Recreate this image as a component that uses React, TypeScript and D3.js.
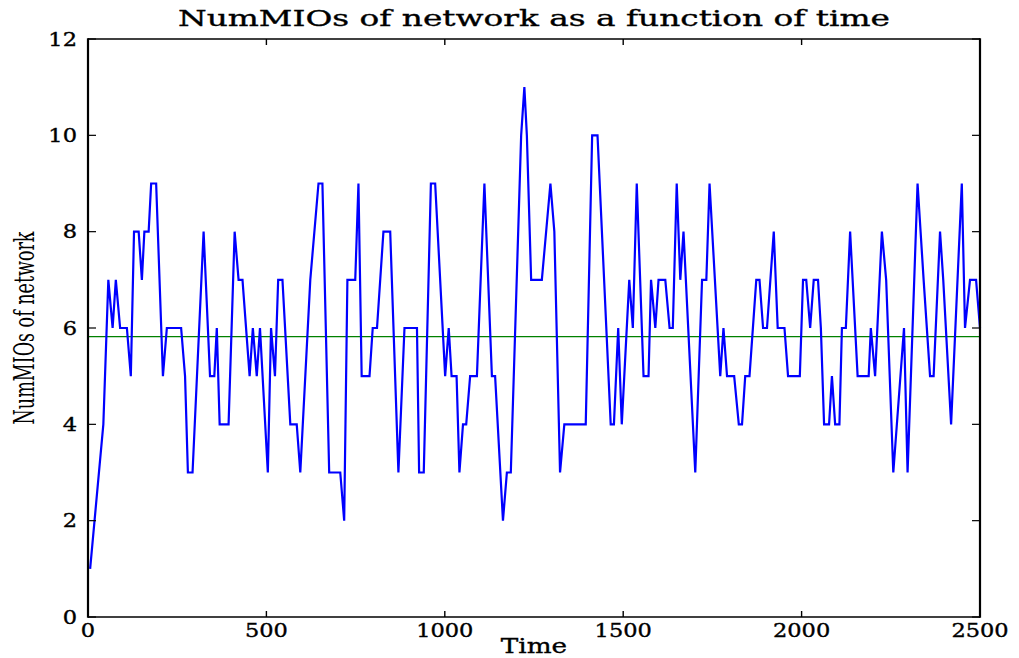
import React from "react";
import * as d3 from "d3";

// Number of MIOs in the network sampled over time (vertices of the trace)
const times: number[] = [
  6, 43, 57, 69, 78, 90, 109, 120, 129, 142, 151, 158, 170, 177, 191, 210, 221, 261, 272, 280,
  293, 324, 342, 354, 361, 369, 394, 411, 422, 433, 453, 462, 473, 482, 504, 513, 524, 533, 545, 567,
  585, 595, 623, 646, 657, 676, 707, 718, 727, 749, 758, 767, 789, 798, 810, 828, 847, 870, 887, 922,
  928, 941, 961, 973, 1001, 1011, 1019, 1033, 1041, 1051, 1060, 1071, 1090, 1111, 1132, 1141, 1163, 1174, 1185, 1214,
  1223, 1230, 1242, 1272, 1296, 1307, 1323, 1335, 1395, 1413, 1428, 1465, 1474, 1486, 1496, 1517, 1527, 1538, 1557, 1571,
  1578, 1590, 1599, 1618, 1630, 1639, 1650, 1660, 1669, 1702, 1721, 1733, 1742, 1772, 1781, 1791, 1811, 1824, 1833, 1842,
  1854, 1873, 1882, 1892, 1903, 1922, 1933, 1952, 1962, 1995, 2004, 2013, 2024, 2034, 2046, 2054, 2063, 2077, 2085, 2094,
  2106, 2113, 2124, 2136, 2157, 2188, 2194, 2206, 2225, 2237, 2257, 2287, 2297, 2325, 2342, 2360, 2370, 2388, 2397, 2419,
  2449, 2458, 2472, 2489, 2500,
];
const numMIOs: number[] = [
  1, 4, 7, 6, 7, 6, 6, 5, 8, 8, 7, 8, 8, 9, 9, 5, 6, 6, 5, 3,
  3, 8, 5, 5, 6, 4, 4, 8, 7, 7, 5, 6, 5, 6, 3, 6, 5, 7, 7, 4,
  4, 3, 7, 9, 9, 3, 3, 2, 7, 7, 9, 5, 5, 6, 6, 8, 8, 3, 6, 6,
  3, 3, 9, 9, 5, 6, 5, 5, 3, 4, 4, 5, 5, 9, 5, 5, 2, 3, 3, 10,
  11, 10, 7, 7, 9, 8, 3, 4, 4, 10, 10, 4, 4, 6, 4, 7, 6, 9, 5, 5,
  7, 6, 7, 7, 6, 6, 9, 7, 8, 3, 7, 7, 9, 5, 6, 5, 5, 4, 4, 5,
  5, 7, 7, 6, 6, 8, 6, 6, 5, 5, 7, 7, 6, 7, 7, 6, 4, 4, 5, 4,
  4, 6, 6, 8, 5, 5, 6, 5, 8, 7, 3, 6, 3, 9, 7, 5, 5, 8, 7, 4,
  9, 6, 7, 7, 6,
];
const meanMIOs = 5.82;

const xTicks: number[] = [0, 500, 1000, 1500, 2000, 2500];
const yTicks: number[] = [0, 2, 4, 6, 8, 10, 12];

const titleText = "NumMIOs of network as a function of time";
const xLabel = "Time";
const yLabel = "NumMIOs of network";

const W = 1019;
const H = 658;
const left = 88;
const right = 980;
const top = 39;
const bottom = 617;
const font = "'DejaVu Serif', serif";
const sx = 1.25;

export default function App() {
  const x = d3.scaleLinear().domain([0, 2500]).range([left, right]);
  const y = d3.scaleLinear().domain([0, 12]).range([bottom, top]);
  const pts: [number, number][] = times.map((t, i) => [t, numMIOs[i]]);
  const line = d3
    .line<[number, number]>()
    .x((d) => x(d[0]))
    .y((d) => y(d[1]));

  const textStyle = { fill: "#000", stroke: "#000", strokeWidth: 0.35 };

  return (
    <svg
      width={W}
      height={H}
      style={{ position: "absolute", left: 0, top: 0, background: "#fff" }}
      fontFamily={font}
    >
      <rect width={W} height={H} fill="#fff" />
      {/* mean level */}
      <line x1={left} x2={right} y1={y(meanMIOs)} y2={y(meanMIOs)} stroke="#008000" strokeWidth={1.4} />
      {/* series */}
      <path d={line(pts) || ""} fill="none" stroke="#0000ff" strokeWidth={2.2} strokeLinejoin="miter" />

      {/* frame */}
      <line x1={left} x2={right} y1={top} y2={top} stroke="#000" strokeWidth={1.6} />
      <line x1={left} x2={right} y1={bottom} y2={bottom} stroke="#000" strokeWidth={1.6} />
      <line x1={left} x2={left} y1={top - 0.8} y2={bottom + 0.8} stroke="#000" strokeWidth={2.2} />
      <line x1={right} x2={right} y1={top - 0.8} y2={bottom + 0.8} stroke="#000" strokeWidth={2.2} />

      {/* x ticks, inward on bottom and top */}
      {xTicks.map((t) => (
        <g key={"xt" + t}>
          <line x1={x(t)} x2={x(t)} y1={bottom} y2={bottom - 6} stroke="#000" strokeWidth={1.4} />
          <line x1={x(t)} x2={x(t)} y1={top} y2={top + 6} stroke="#000" strokeWidth={1.4} />
          <g transform={`translate(${x(t)},637) scale(${sx},1)`}>
            <text textAnchor="middle" fontSize={18} style={textStyle}>
              {t}
            </text>
          </g>
        </g>
      ))}

      {/* y ticks, inward on left and right */}
      {yTicks.map((v) => (
        <g key={"yt" + v}>
          <line x1={left} x2={left + 8} y1={y(v)} y2={y(v)} stroke="#000" strokeWidth={1.2} />
          <line x1={right} x2={right - 8} y1={y(v)} y2={y(v)} stroke="#000" strokeWidth={1.2} />
          <g transform={`translate(77,${y(v) + 6.5}) scale(${sx},1)`}>
            <text textAnchor="end" fontSize={18} style={textStyle}>
              {v}
            </text>
          </g>
        </g>
      ))}

      {/* title */}
      <text
        x={534}
        y={26}
        textAnchor="middle"
        fontSize={22}
        textLength={712}
        lengthAdjust="spacingAndGlyphs"
        style={textStyle}
      >
        {titleText}
      </text>

      {/* axis labels */}
      <g transform={`translate(${(left + right) / 2},653) scale(${sx},1)`}>
        <text textAnchor="middle" fontSize={21} style={textStyle}>
          {xLabel}
        </text>
      </g>
      <g transform={`translate(34,${(top + bottom) / 2}) scale(1.5,1) rotate(-90)`}>
        <text textAnchor="middle" fontSize={18} textLength={193} lengthAdjust="spacingAndGlyphs" fill="#000">
          {yLabel}
        </text>
      </g>
    </svg>
  );
}
